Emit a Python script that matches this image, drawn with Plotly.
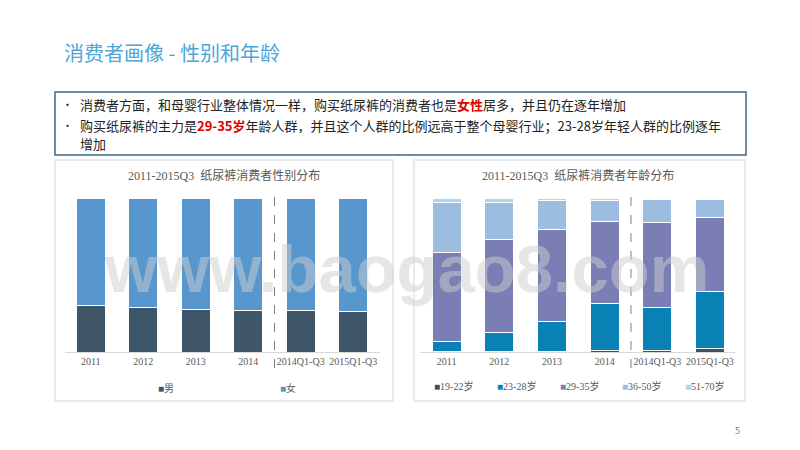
import plotly.graph_objects as go

categories = ["2011", "2012", "2013", "2014", "2014Q1-Q3", "2015Q1-Q3"]

# gender share (%)
male = [30, 28.6, 27.5, 27, 27, 26]
female = [70, 71.4, 72.5, 73, 73, 74]

# age share (%)
age_19_22 = [0.4, 0.3, 0.6, 1.3, 1.3, 2.4]
age_23_28 = [6.1, 12.5, 19.5, 29.9, 27.7, 37.2]
age_29_35 = [58.2, 60.4, 59.6, 53.6, 55.2, 47.8]
age_36_50 = [32.5, 24.0, 18.6, 13.7, 14.7, 11.5]
age_51_70 = [2.8, 2.8, 1.7, 1.5, 1.1, 1.1]

gender_names = ["男", "女"]
age_names = ["19-22岁", "23-28岁", "29-35岁", "36-50岁", "51-70岁"]

gender_colors = ["#3E5668", "#5897CE"]
age_colors = ["#3A5264", "#0A81B5", "#7B7DB5", "#9CBDE0", "#A9D8F0"]

W, H = 800, 450
OFF = 8  # page body margin
def px_x(v): return (v - OFF) / W
def px_y(v): return 1 - (v - OFF) / H

fig = go.Figure()

for vals, name, col in zip([male, female], gender_names, gender_colors):
    fig.add_trace(go.Bar(x=categories, y=vals, name=name, marker_color=col,
                         marker_line_color="white", marker_line_width=1,
                         xaxis="x", yaxis="y", showlegend=False))

for vals, name, col in zip([age_19_22, age_23_28, age_29_35, age_36_50, age_51_70], age_names, age_colors):
    fig.add_trace(go.Bar(x=categories, y=vals, name=name, marker_color=col,
                         marker_line_color="white", marker_line_width=1,
                         xaxis="x2", yaxis="y2", showlegend=False))

tick_font = dict(family="Liberation Serif, Noto Sans CJK SC", size=10, color="#595959")
axis_common = dict(showgrid=False, tickfont=tick_font, showline=True, linecolor="#D9D9D9",
                   ticks="", fixedrange=True)
fig.update_layout(
    width=W, height=H, margin=dict(l=0, r=0, t=0, b=0),
    paper_bgcolor="white", plot_bgcolor="rgba(0,0,0,0)",
    barmode="stack", bargap=0.45,
    xaxis=dict(domain=[px_x(64.5), px_x(379.5)], anchor="y", **axis_common),
    yaxis=dict(domain=[px_y(352), px_y(198)], range=[0, 100], visible=False),
    xaxis2=dict(domain=[px_x(420.3), px_x(736.3)], anchor="y2", **axis_common),
    yaxis2=dict(domain=[px_y(352), px_y(198)], range=[0, 100], visible=False),
    font=dict(family="Noto Sans CJK SC"),
)

shapes = [
    # panels
    dict(type="rect", xref="paper", yref="paper", x0=px_x(55), x1=px_x(393), y0=px_y(401), y1=px_y(160),
         line=dict(color="#E3E3E3", width=1.5), layer="below"),
    dict(type="rect", xref="paper", yref="paper", x0=px_x(414), x1=px_x(745), y0=px_y(401), y1=px_y(160),
         line=dict(color="#E3E3E3", width=1.5), layer="below"),
    # text box
    dict(type="rect", xref="paper", yref="paper", x0=px_x(55), x1=px_x(746), y0=px_y(155), y1=px_y(92),
         line=dict(color="#3A6A86", width=1.5)),
    # dashed separators
    dict(type="line", xref="x", yref="paper", x0=3.5, x1=3.5, y0=px_y(368), y1=px_y(196),
         line=dict(color="#7F7F7F", width=1, dash="dash")),
    dict(type="line", xref="x2", yref="paper", x0=3.5, x1=3.5, y0=px_y(368), y1=px_y(196),
         line=dict(color="#7F7F7F", width=1, dash="dash")),
]

cjk = "Noto Sans CJK SC"
serif = "Liberation Serif, Noto Sans CJK SC"
ann = [
    dict(x=px_x(62), y=px_y(53), text="消费者画像 - 性别和年龄", xanchor="left",
         font=dict(family=cjk, size=20, color="#4DA6D9")),
    dict(x=px_x(60), y=px_y(104), text="•", xanchor="left", font=dict(family=cjk, size=11, color="#222")),
    dict(x=px_x(78), y=px_y(104), xanchor="left", font=dict(family=cjk, size=13, color="#222"),
         text="消费者方面，和母婴行业整体情况一样，购买纸尿裤的消费者也是<b><span style='color:#E00000'>女性</span></b>居多，并且仍在逐年增加"),
    dict(x=px_x(60), y=px_y(125), text="•", xanchor="left", font=dict(family=cjk, size=11, color="#222")),
    dict(x=px_x(78), y=px_y(125), xanchor="left", font=dict(family=cjk, size=13, color="#222"),
         text="购买纸尿裤的主力是<b><span style='color:#E00000'>29-35岁</span></b>年龄人群，并且这个人群的比例远高于整个母婴行业；23-28岁年轻人群的比例逐年"),
    dict(x=px_x(78), y=px_y(143), xanchor="left", font=dict(family=cjk, size=13, color="#222"), text="增加"),
    dict(x=px_x(224), y=px_y(176), text="2011-2015Q3  纸尿裤消费者性别分布",
         font=dict(family=serif, size=12, color="#595959")),
    dict(x=px_x(578), y=px_y(176), text="2011-2015Q3  纸尿裤消费者年龄分布",
         font=dict(family=serif, size=12, color="#595959")),
    dict(x=px_x(737), y=px_y(430), text="5", font=dict(family=cjk, size=9, color="#4D7FA8")),
    dict(x=px_x(406), y=px_y(268), text="<b>www.baogao8.com</b>",
         font=dict(family="Liberation Sans", size=67, color="rgba(205,205,205,0.5)")),
]

# manual legends
for name, col, xp in zip(gender_names, gender_colors, [156, 278]):
    ann.append(dict(x=px_x(xp), y=px_y(388), xanchor="left",
                    text=f"<span style='color:{col}'>■</span>{name}",
                    font=dict(family=serif, size=10, color="#595959")))
for name, col, xp in zip(age_names, age_colors, [432, 495, 558, 620, 683]):
    ann.append(dict(x=px_x(xp), y=px_y(386), xanchor="left",
                    text=f"<span style='color:{col}'>■</span>{name}",
                    font=dict(family=serif, size=10, color="#595959")))

for a in ann:
    a.setdefault("xref", "paper")
    a.setdefault("yref", "paper")
    a.setdefault("xanchor", "center")
    a["yanchor"] = "middle"
    a["showarrow"] = False

fig.update_layout(shapes=shapes, annotations=ann)
fig.write_html("out.html")
